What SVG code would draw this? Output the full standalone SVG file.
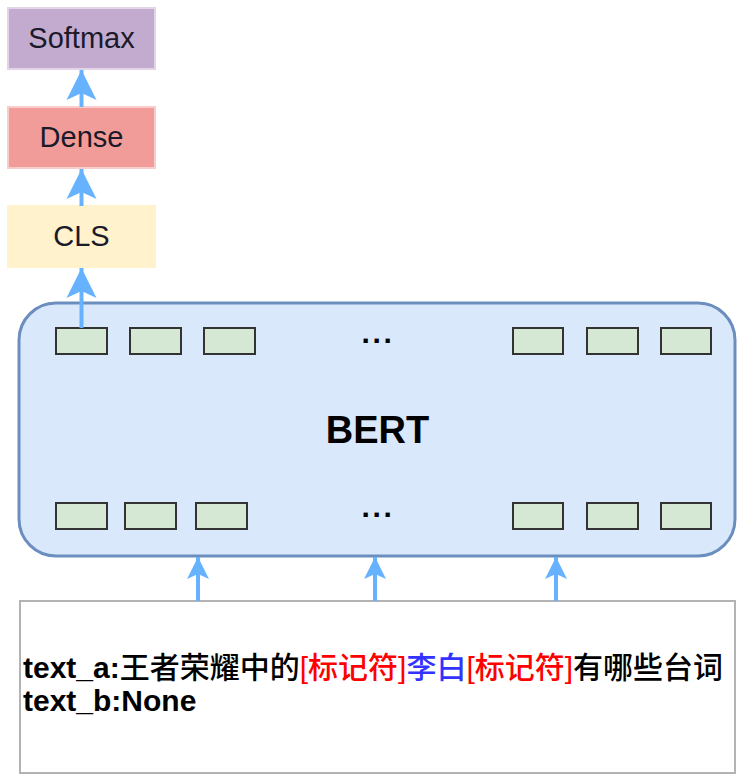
<svg xmlns="http://www.w3.org/2000/svg" width="742" height="781" viewBox="0 0 742 781">
<style>
.lbl{font-family:"Liberation Sans",Arial,sans-serif;font-size:29px;fill:#1a1a2a;text-anchor:middle}
.tok{fill:#D5E8D4;stroke:#333333;stroke-width:2}
.conn{stroke:#66B2FF;stroke-width:4;fill:none}
.dots{font-family:"Liberation Sans",Arial,sans-serif;font-size:30px;font-weight:bold;fill:#000;text-anchor:middle;letter-spacing:2.7px}
.inp{font-family:"Liberation Sans","Noto Sans CJK SC",sans-serif;font-size:30px;font-weight:500;fill:#000}
.b{font-weight:bold}
</style>
<defs>
<marker id="ahBig" markerUnits="userSpaceOnUse" markerWidth="32" markerHeight="32" viewBox="0 0 32 32" refX="30" refY="16" orient="auto">
<path d="M30,16 L0,1 L7,16 L0,31 Z" fill="#66B2FF"/>
</marker>
<marker id="ahSmall" markerUnits="userSpaceOnUse" markerWidth="24" markerHeight="24" viewBox="0 0 24 24" refX="22" refY="12" orient="auto">
<path d="M22,12 L0,1 L5,12 L0,23 Z" fill="#66B2FF"/>
</marker>
</defs>

<g id="softmax">
<rect x="8" y="8" width="147" height="61" fill="#C3ABD0" stroke="#E1D5E7" stroke-width="2"/>
<text class="lbl" x="81.5" y="48">Softmax</text>
</g>
<g id="dense">
<rect x="8" y="107" width="147" height="61" fill="#F19C99" stroke="#F8CECC" stroke-width="2"/>
<text class="lbl" x="81.5" y="147">Dense</text>
</g>
<g id="cls">
<rect x="8" y="206" width="147" height="61" fill="#FFF2CC" stroke="#FFF2CC" stroke-width="2"/>
<text class="lbl" x="81.5" y="246">CLS</text>
</g>

<g id="bert">
<rect x="19" y="303" width="716" height="253" rx="37" ry="37" fill="#DAE8FC" stroke="#6C8EBF" stroke-width="3"/>
<text x="377.5" y="443" font-family="Liberation Sans,Arial,sans-serif" font-size="38" font-weight="bold" text-anchor="middle" fill="#000">BERT</text>
<text class="dots" x="378" y="343">...</text>
<text class="dots" x="378" y="517">...</text>
</g>
<g id="tokens-top">
<rect class="tok" x="56" y="328" width="51" height="26"/>
<rect class="tok" x="130" y="328" width="51" height="26"/>
<rect class="tok" x="204" y="328" width="51" height="26"/>
<rect class="tok" x="513" y="328" width="50" height="26"/>
<rect class="tok" x="587" y="328" width="51" height="26"/>
<rect class="tok" x="661" y="328" width="50" height="26"/>
</g>
<g id="tokens-bottom">
<rect class="tok" x="56" y="503" width="51" height="26"/>
<rect class="tok" x="125" y="503" width="51" height="26"/>
<rect class="tok" x="196" y="503" width="51" height="26"/>
<rect class="tok" x="513" y="503" width="50" height="26"/>
<rect class="tok" x="587" y="503" width="51" height="26"/>
<rect class="tok" x="661" y="503" width="50" height="26"/>
</g>

<g id="input">
<rect x="20" y="601" width="715" height="172" fill="#FFFFFF" stroke="#B3B3B3" stroke-width="2"/>
<text class="inp" x="23" y="678"><tspan class="b">text_a:</tspan>王者荣耀中的<tspan fill="#FF0000">[标记符]</tspan><tspan fill="#3333FF">李白</tspan><tspan fill="#FF0000">[标记符]</tspan>有哪些台词</text>
<text class="inp b" x="23" y="711">text_b:None</text>
</g>

<g id="connectors">
<line class="conn" x1="81.5" y1="107" x2="81.5" y2="70" marker-end="url(#ahBig)"/>
<line class="conn" x1="81.5" y1="206" x2="81.5" y2="169" marker-end="url(#ahBig)"/>
<line class="conn" x1="81.5" y1="328" x2="81.5" y2="268" marker-end="url(#ahBig)"/>
<line class="conn" x1="198" y1="601" x2="198" y2="557" marker-end="url(#ahSmall)"/>
<line class="conn" x1="375" y1="601" x2="375" y2="557" marker-end="url(#ahSmall)"/>
<line class="conn" x1="556" y1="601" x2="556" y2="557" marker-end="url(#ahSmall)"/>
</g>
</svg>
